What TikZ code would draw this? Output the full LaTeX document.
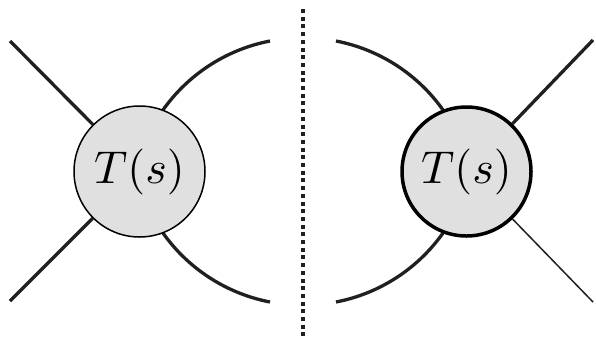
\documentclass[tikz,border=0pt]{standalone}
\begin{document}
\begin{tikzpicture}[x=1pt,y=-1pt,
  leg/.style={line width=3.3pt,draw={rgb,255:red,34;green,31;blue,32}},
  thinleg/.style={line width=1.5pt,draw={rgb,255:red,34;green,31;blue,32}},
  blob/.style={circle,minimum size=131pt,inner sep=0pt,fill={rgb,255:red,224;green,224;blue,224},draw=black},
  dotline/.style={line width=4pt,dash pattern=on 4pt off 3.7pt,draw={rgb,255:red,34;green,31;blue,32}}]
\useasboundingbox (0,0) rectangle (596,338);
\coordinate (ul) at (10,41);
\coordinate (dl) at (10,301);
\coordinate (ta) at (270,41);
\coordinate (tb) at (270,302);
\coordinate (tc) at (336,41);
\coordinate (td) at (336,302);
\coordinate (ur) at (593,40);
\coordinate (dr) at (593,302);
\coordinate (dt) at (303,9);
\coordinate (db) at (303,336);
\draw[leg] (ta) arc[start angle=259.07, end angle=210, radius=170.8];
\draw[leg] (tb) arc[start angle=100.93, end angle=150, radius=170.8];
\draw[leg] (tc) arc[start angle=280.93, end angle=330, radius=170.8];
\draw[leg] (td) arc[start angle=79.07, end angle=30, radius=170.8];
\node[blob,line width=1.5pt] (L) at (139.5,171.5) {\scalebox{4.6}{$T(s)$}};
\node[blob,line width=3.5pt,minimum size=129pt] (R) at (466.5,171.5) {\scalebox{4.6}{$T(s)$}};
\draw[leg] (ul) -- (L);
\draw[leg] (dl) -- (L);
\draw[leg] (ur) -- (R);
\draw[thinleg] (dr) -- (R);
\draw[dotline] (dt) -- (db);
\end{tikzpicture}
\end{document}
